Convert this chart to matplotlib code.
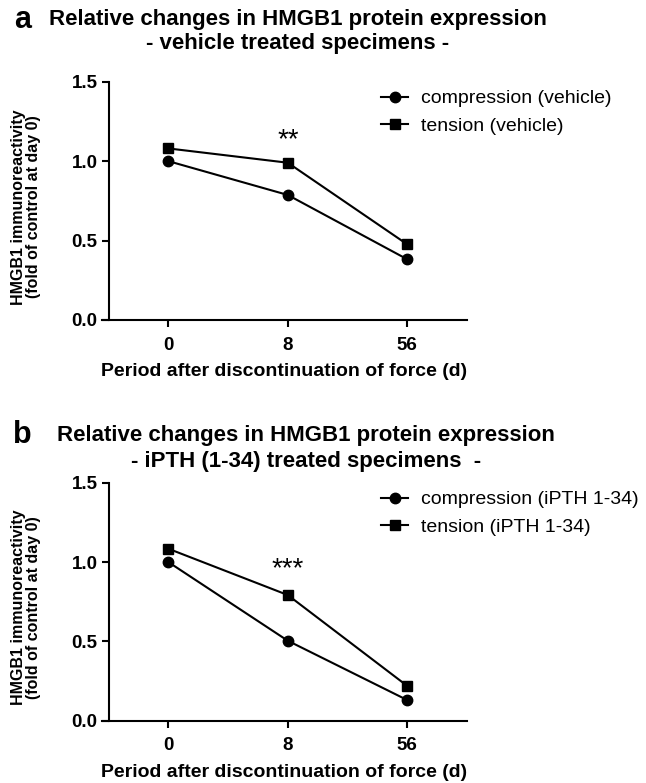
import matplotlib
matplotlib.use("Agg")
import matplotlib.pyplot as plt

plt.rcParams["font.family"] = ["Liberation Sans", "DejaVu Sans"]

days = ["0", "8", "56"]

vehicle_compression = [1.00, 0.787, 0.382]
vehicle_tension = [1.08, 0.99, 0.476]

ipth_compression = [1.00, 0.504, 0.13]
ipth_tension = [1.084, 0.792, 0.219]

panels = [
    {
        "letter": "a",
        "title": ["Relative changes in HMGB1 protein expression",
                  "- vehicle treated specimens -"],
        "comp": vehicle_compression,
        "tens": vehicle_tension,
        "comp_label": "compression (vehicle)",
        "tens_label": "tension (vehicle)",
        "stars": "**",
        "star_y": 1.13,
    },
    {
        "letter": "b",
        "title": ["Relative changes in HMGB1 protein expression",
                  "- iPTH (1-34) treated specimens  -"],
        "comp": ipth_compression,
        "tens": ipth_tension,
        "comp_label": "compression (iPTH 1-34)",
        "tens_label": "tension (iPTH 1-34)",
        "stars": "***",
        "star_y": 0.955,
    },
]

W, H = 646, 783
fig = plt.figure(figsize=(W / 100, H / 100), dpi=100)

# pixel positions: axes top/bottom, title lines, letter
layout = [
    dict(top=81.7, bottom=320, t1=20, t2=43, ly=20, tx=298, lx=14),
    dict(top=482.7, bottom=720.7, t1=435, t2=462, ly=435, tx=306, lx=13),
]
left_px, right_px = 102, 467

for p, L in zip(panels, layout):
    ax = fig.add_axes([left_px / W, 1 - L["bottom"] / H,
                       (right_px - left_px) / W, (L["bottom"] - L["top"]) / H])
    x = list(range(len(days)))
    ax.plot(x, p["comp"], color="black", lw=1.5, marker="o", ms=7.5,
            clip_on=False, label=p["comp_label"], zorder=3)
    ax.plot(x, p["tens"], color="black", lw=1.5, marker="s", ms=7.5,
            clip_on=False, label=p["tens_label"], zorder=3)
    ax.text(1, p["star_y"], p["stars"], ha="center", va="center",
            fontsize=20)

    ax.set_xlim(-0.555, 2.5)
    ax.set_ylim(0, 1.5)
    ax.set_xticks(x)
    ax.set_xticklabels(days)
    ax.set_yticks([0, 0.5, 1.0, 1.5])
    ax.set_yticklabels(["0.0", "0.5", "1.0", "1.5"])
    for sp in ["top", "right"]:
        ax.spines[sp].set_visible(False)
    ax.spines["left"].set_position(("data", -0.5))
    for sp in ["left", "bottom"]:
        ax.spines[sp].set_linewidth(1.5)
    ax.tick_params(width=1.5, length=5, direction="out")
    ax.tick_params(axis="x", pad=7)
    ax.tick_params(axis="y", pad=3)
    for lab in ax.get_xticklabels() + ax.get_yticklabels():
        lab.set_fontweight("bold")
        lab.set_fontsize(13.5)

    ax.set_xlabel("Period after discontinuation of force (d)",
                  fontsize=14, fontweight="bold", labelpad=7)

    mid = (L["top"] + L["bottom"]) / 2 + 6
    fig.text(26 / W, 1 - mid / H,
             "HMGB1 immunoreactivity\n(fold of control at day 0)",
             rotation=90, ha="center", va="center", fontsize=11.5,
             fontweight="bold", linespacing=1.05)

    fig.text(L["lx"] / W, 1 - L["ly"] / H, p["letter"], fontsize=22,
             fontweight="bold", va="center", ha="left")
    fig.text(L["tx"] / W, 1 - L["t1"] / H, p["title"][0], fontsize=16,
             fontweight="bold", va="center", ha="center")
    fig.text(L["tx"] / W, 1 - L["t2"] / H, p["title"][1], fontsize=16,
             fontweight="bold", va="center", ha="center")

    ax.legend(loc="upper left", bbox_to_anchor=(381 / W, 1 - (L["top"] + 8) / H),
              bbox_transform=fig.transFigure, frameon=False, fontsize=14,
              handlelength=1.4, handletextpad=0.65, labelspacing=0.5,
              borderaxespad=0, borderpad=0.0)

fig.savefig("out.png", dpi=100)
